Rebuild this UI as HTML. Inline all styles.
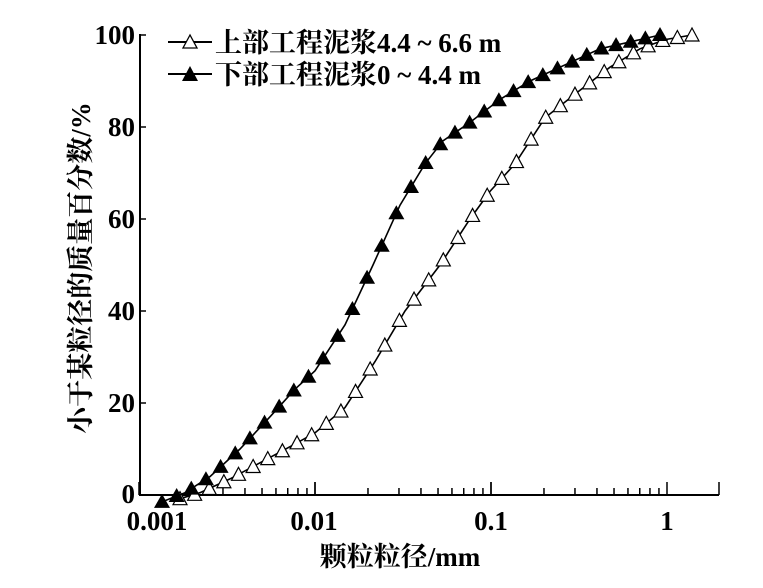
<!DOCTYPE html>
<html><head><meta charset="utf-8"><style>
body{margin:0;background:#fff}
svg{display:block;font-family:"Liberation Serif","Noto Serif CJK SC",serif;font-weight:bold}
</style></head><body>
<svg id="s" width="763" height="588" xmlns="http://www.w3.org/2000/svg">
<g stroke="#000" stroke-width="2" fill="none">
<line x1="140" y1="34" x2="140" y2="496"/>
<line x1="139" y1="495" x2="719" y2="495"/>
</g>
<g id="ticks" stroke="#000" stroke-width="1.5"></g>
<g font-size="27" text-anchor="end">
<text x="135" y="44">100</text><text x="135" y="136">80</text><text x="135" y="228">60</text><text x="135" y="320">40</text><text x="135" y="412">20</text><text x="135" y="503">0</text>
</g>
<g font-size="27" text-anchor="middle">
<text x="157" y="530">0.001</text><text x="314" y="530">0.01</text><text x="491" y="530">0.1</text><text x="667" y="530">1</text>
<text x="400" y="566">颗粒粒径/mm</text>
</g>
<text font-size="27" text-anchor="middle" transform="translate(90,268) rotate(-90)">小于某粒径的质量百分数/%</text>
<g font-size="27">
<line x1="168" y1="42" x2="212" y2="42" stroke="#000" stroke-width="2"/>
<polygon points="190,35 183,48 197,48" fill="#fff" stroke="#000" stroke-width="1.3"/>
<text x="215" y="52">上部工程泥浆4.4 ~ 6.6 m</text>
<line x1="168" y1="74" x2="212" y2="74" stroke="#000" stroke-width="2"/>
<polygon points="190,66 182,81 198,81" fill="#000"/>
<text x="215" y="84">下部工程泥浆0 ~ 4.4 m</text>
</g>
<g id="series"></g>
</svg>
<script>
var NS="http://www.w3.org/2000/svg";
function el(t,a,p){var e=document.createElementNS(NS,t);for(var k in a)e.setAttribute(k,a[k]);p.appendChild(e);return e;}
var tk=document.getElementById("ticks");
var x0=139,dec=176;
for(var d=0;d<3;d++)for(var m=1;m<=10;m++){var x=x0+dec*(d+Math.log10(m));var h=(m==1||m==10)?13:7;el("line",{x1:x,y1:495,x2:x,y2:495-h},tk);}
el("line",{x1:719,y1:495,x2:719,y2:482},tk);
[0,20,40,60,80,100].forEach(function(v){var y=495-4.6*v;el("line",{x1:140,y1:y,x2:146,y2:y},tk);});
function Y(v){return 495-4.6*v;}
var B=[[162,-1.5],[185,0.5],[210,4],[240,10],[270,17],[295,23],[315,27],[345,37],[373,50],[400,63],[425,72],[443,77],[470,81],[500,86],[530,90],[560,93],[600,97],[640,99],[660,100]];
var W=[[180,-0.8],[200,0.5],[230,3.5],[260,7],[290,10.5],[315,13.5],[345,19],[375,29],[405,40],[440,50],[470,60],[490,66],[515,72],[545,82],[580,88],[610,93],[640,97],[665,99],[692,100]];
function interp(P,x){for(var i=0;i<P.length-1;i++){if(x<=P[i+1][0]){var t=(x-P[i][0])/(P[i+1][0]-P[i][0]);return P[i][1]+t*(P[i+1][1]-P[i][1]);}}return P[P.length-1][1];}
var sg=document.getElementById("series");
function draw(P,fill,step){
 var pts=P.map(function(p){return p[0]+","+Y(p[1]);}).join(" ");
 el("polyline",{points:pts,fill:"none",stroke:"#000","stroke-width":1.6},sg);
 var a=P[0][0],b=P[P.length-1][0];var n=Math.round((b-a)/step);
 for(var i=0;i<=n;i++){var x=a+(b-a)*i/n;var y=Y(interp(P,x));
  if(fill)el("polygon",{points:x+","+(y-8)+" "+(x-8)+","+(y+6)+" "+(x+8)+","+(y+6),fill:"#000"},sg);
  else el("polygon",{points:x+","+(y-7)+" "+(x-7)+","+(y+6)+" "+(x+7)+","+(y+6),fill:"#fff",stroke:"#000","stroke-width":1.2},sg);}
}
draw(W,false,14.5);
draw(B,true,14.5);
</script>
</body></html>
